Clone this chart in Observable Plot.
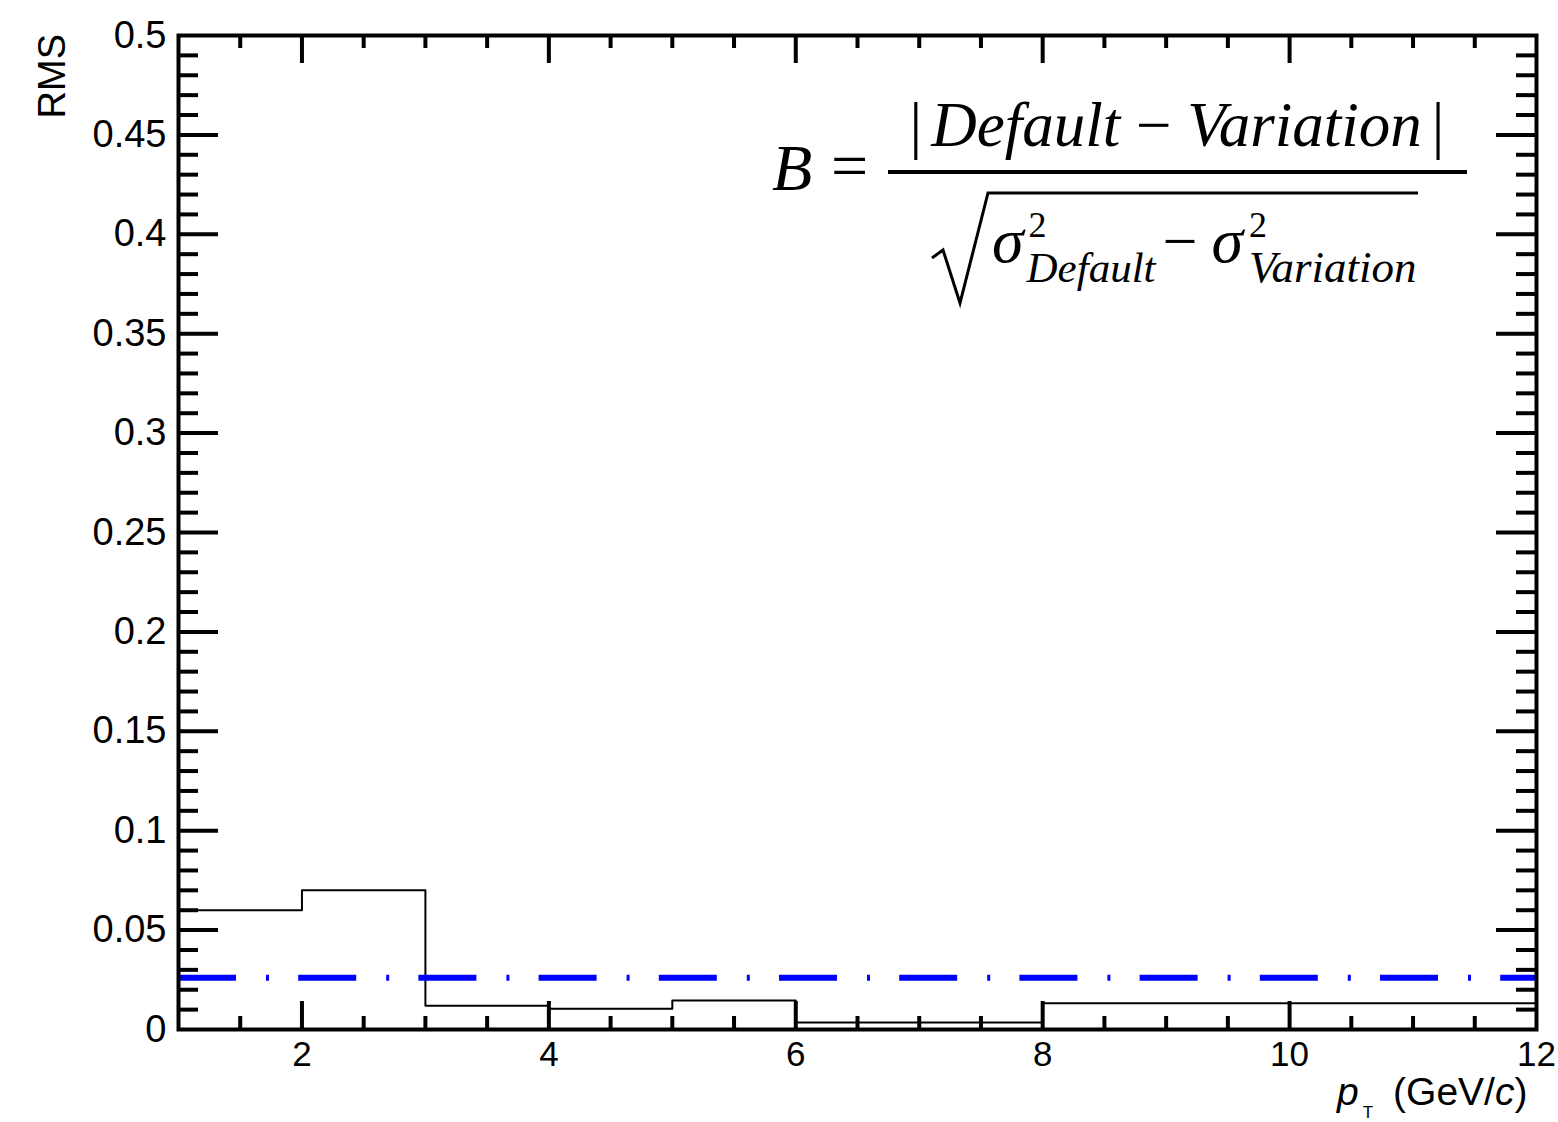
<!DOCTYPE html>
<html>
<head>
<meta charset="utf-8">
<script src="https://cdn.jsdelivr.net/npm/d3@7"></script>
<script src="https://cdn.jsdelivr.net/npm/@observablehq/plot@0.6"></script>
<style>
  html, body { margin: 0; padding: 0; background: #fff; }
</style>
</head>
<body>
<div id="chart"></div>
<script>
// ---- data ----
const binEdges = [1, 2, 3, 4, 5, 6, 8, 12];          // pT bin edges (GeV/c)
const rmsValues = [0.060, 0.070, 0.012, 0.0105, 0.0146, 0.0035, 0.0132]; // RMS per bin
const meanLine = 0.026;                               // blue dash-dot level
const xTicks = [2, 4, 6, 8, 10, 12];
const yTicks = [0, 0.05, 0.1, 0.15, 0.2, 0.25, 0.3, 0.35, 0.4, 0.45, 0.5];
const xLabelText = "(GeV/";
const yLabelText = "RMS";

// ---- layout ----
const width = 1558, height = 1122;
const mLeft = 178, mRight = 22, mTop = 35, mBottom = 93;
const innerW = width - mLeft - mRight, innerH = height - mTop - mBottom;
const xDomain = [1, 12], yDomain = [0, 0.5];
const yPerPx = (yDomain[1] - yDomain[0]) / innerH;
const xPerPx = (xDomain[1] - xDomain[0]) / innerW;

const xMajor = [2, 4, 6, 8, 10];
const xMinor = d3.range(1.5, 12, 0.5).filter(v => !xMajor.includes(v));
const yMajor = d3.range(1, 10).map(i => +(i * 0.05).toFixed(2));
const yMinor = d3.range(1, 50).map(i => +(i * 0.01).toFixed(2)).filter(v => Math.round(v * 100) % 5 !== 0);

const stepData = binEdges.map((x, i) => ({x, y: rmsValues[Math.min(i, rmsValues.length - 1)]}));

const tickW = 4;
const plot = Plot.plot({
  width, height,
  marginLeft: mLeft, marginRight: mRight, marginTop: mTop, marginBottom: mBottom,
  style: {fontFamily: "'Liberation Sans', Arial, Helvetica, sans-serif", fontSize: "35px", color: "black", background: "white"},
  x: {domain: xDomain, ticks: xTicks, tickSize: 0, tickPadding: 12, label: null, tickFormat: d => String(d)},
  y: {domain: yDomain, ticks: yTicks, tickSize: 0, tickPadding: 12, label: null, tickFormat: d => String(+d.toFixed(2))},
  marks: [
    // inner ticks, ROOT style, on all four sides
    Plot.ruleX(xMajor, {x: d => d, y1: yDomain[0], y2: yDomain[0] + 28 * yPerPx, stroke: "black", strokeWidth: tickW}),
    Plot.ruleX(xMinor, {x: d => d, y1: yDomain[0], y2: yDomain[0] + 13 * yPerPx, stroke: "black", strokeWidth: tickW}),
    Plot.ruleX(xMajor, {x: d => d, y1: yDomain[1], y2: yDomain[1] - 28 * yPerPx, stroke: "black", strokeWidth: tickW}),
    Plot.ruleX(xMinor, {x: d => d, y1: yDomain[1], y2: yDomain[1] - 13 * yPerPx, stroke: "black", strokeWidth: tickW}),
    Plot.ruleY(yMajor, {y: d => d, x1: xDomain[0], x2: xDomain[0] + 40 * xPerPx, stroke: "black", strokeWidth: tickW}),
    Plot.ruleY(yMinor, {y: d => d, x1: xDomain[0], x2: xDomain[0] + 20 * xPerPx, stroke: "black", strokeWidth: tickW}),
    Plot.ruleY(yMajor, {y: d => d, x1: xDomain[1], x2: xDomain[1] - 40 * xPerPx, stroke: "black", strokeWidth: tickW}),
    Plot.ruleY(yMinor, {y: d => d, x1: xDomain[1], x2: xDomain[1] - 20 * xPerPx, stroke: "black", strokeWidth: tickW}),
    // histogram outline
    Plot.line(stepData, {x: "x", y: "y", curve: "step-after", stroke: "black", strokeWidth: 2}),
    // mean level, dash-dot blue
    Plot.ruleY([meanLine], {stroke: "#0000ff", strokeWidth: 6, strokeDasharray: "58,30,3,29.2"}),
    Plot.frame({stroke: "black", strokeWidth: 4})
  ]
});

const svg = d3.select(plot);
svg.selectAll('g[aria-label="y-axis tick label"]').style("font-size", "38px");

const sans = "'Liberation Sans', Arial, Helvetica, sans-serif";
// y axis title
svg.append("text")
  .attr("transform", "translate(65,34) rotate(-90)")
  .attr("text-anchor", "end")
  .attr("font-family", sans)
  .attr("font-size", 38)
  .attr("fill", "black")
  .text(yLabelText);

// x axis title: p_T (GeV/c)
const xt = svg.append("text")
  .attr("x", 1337).attr("y", 1105)
  .attr("text-anchor", "start")
  .attr("font-family", sans)
  .attr("font-size", 39)
  .attr("fill", "black");
xt.append("tspan").attr("font-style", "italic").text("p");
xt.append("tspan").attr("font-size", 17).attr("dx", 4).attr("dy", 13).text("T");
xt.append("tspan").attr("dx", 20).attr("dy", -13).text(xLabelText);
xt.append("tspan").attr("font-style", "italic").text("c");
xt.append("tspan").text(")");

// formula
const serif = "'Liberation Serif', 'Times New Roman', Times, serif";
const f = svg.append("g").attr("font-family", serif).attr("fill", "black").attr("text-anchor", "start");
f.append("text").attr("x", 772).attr("y", 190).attr("font-size", 66).attr("font-style", "italic").text("B");
f.append("text").attr("x", 831).attr("y", 188).attr("font-size", 66).text("=");
f.append("line").attr("x1", 888).attr("x2", 1467).attr("y1", 172).attr("y2", 172).attr("stroke", "black").attr("stroke-width", 4);
const num = f.append("text").attr("x", 1177).attr("y", 146).attr("font-size", 63).attr("text-anchor", "middle");
num.append("tspan").text("|");
num.append("tspan").attr("dx", 9).attr("font-style", "italic").text("Default");
num.append("tspan").text(" − ");
num.append("tspan").attr("font-style", "italic").text("Variation");
num.append("tspan").attr("dx", 10).text("|");
f.append("path").attr("d", "M932,258 L943,250 L960,303 L988,193 L1418,193")
  .attr("fill", "none").attr("stroke", "black").attr("stroke-width", 3).attr("stroke-linejoin", "miter");
// denominator as one text run with super/subscripts
const den = f.append("text").attr("x", 992).attr("y", 262).attr("font-size", 64);
den.append("tspan").attr("font-style", "italic").text("σ");
den.append("tspan").attr("font-size", 36).attr("dx", 5).attr("dy", -25).text("2");
den.append("tspan").attr("font-size", 43).attr("font-style", "italic").attr("dx", -20).attr("dy", 45).text("Default");
den.append("tspan").attr("font-size", 62).attr("dx", 7).attr("dy", -20).text("−");
den.append("tspan").attr("font-style", "italic").attr("dx", 14).text("σ");
den.append("tspan").attr("font-size", 36).attr("dx", 6).attr("dy", -25).text("2");
den.append("tspan").attr("font-size", 45).attr("font-style", "italic").attr("dx", -18).attr("dy", 45).text("Variation");

document.getElementById("chart").appendChild(plot);
</script>
</body>
</html>
